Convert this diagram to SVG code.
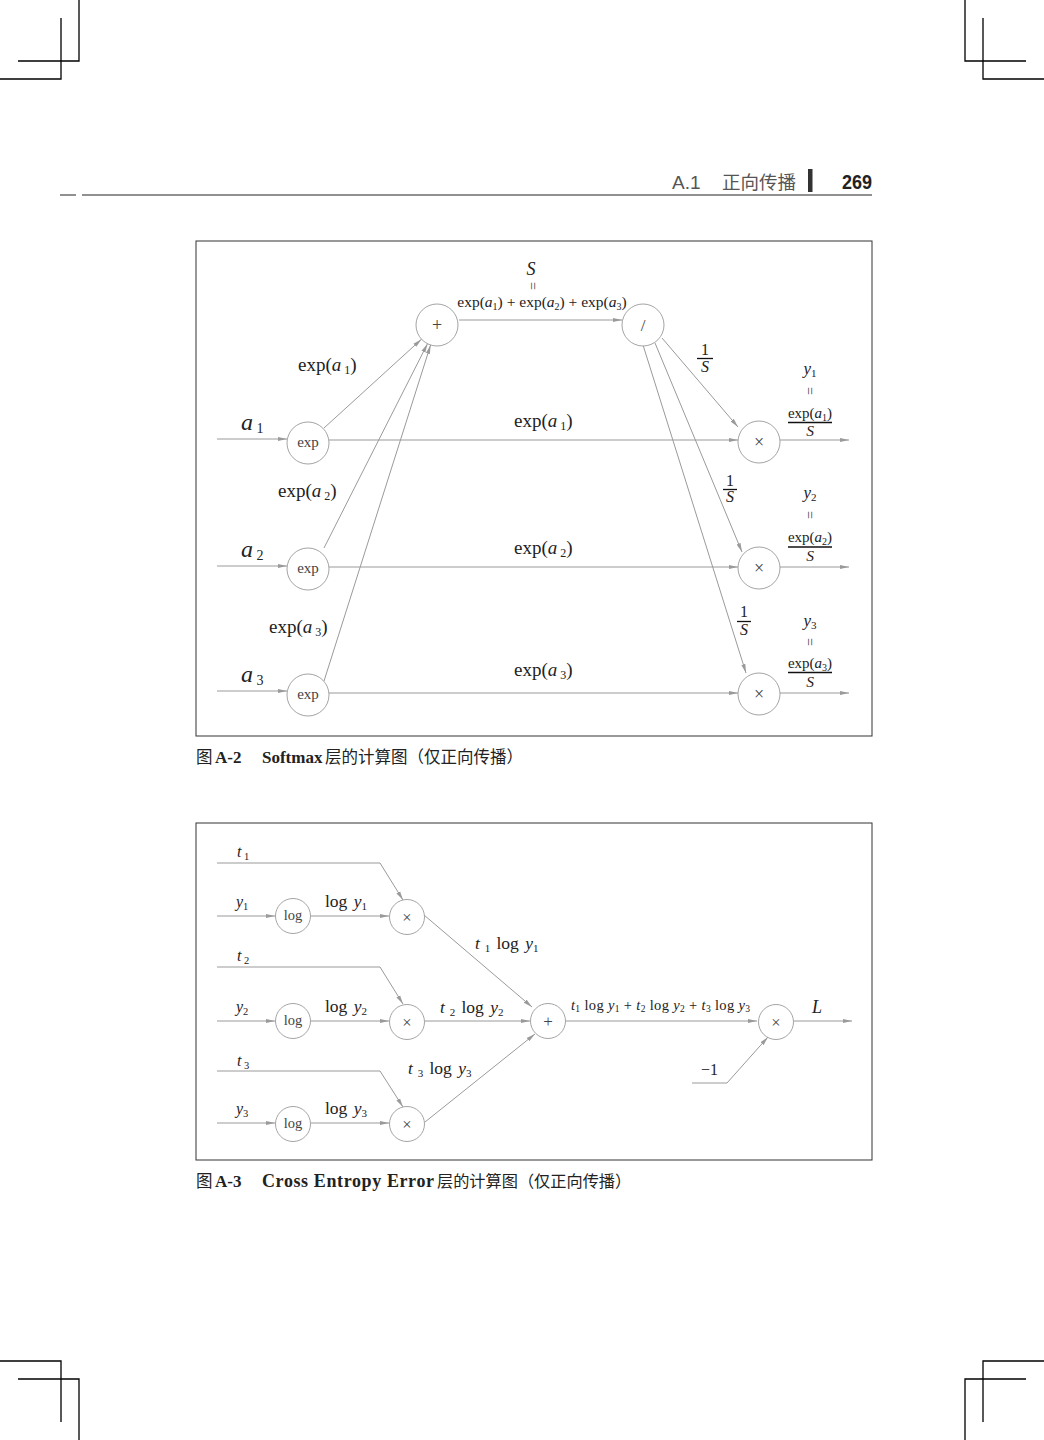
<svg xmlns="http://www.w3.org/2000/svg" width="1044" height="1440" viewBox="0 0 1044 1440">
<style>
.bg{fill:#fff}
.crop{fill:none;stroke:#000;stroke-width:1.3}
.frame{fill:none;stroke:#333;stroke-width:1}
.node circle{fill:#fff;stroke:#9a9a9a;stroke-width:0.9}
.conn path{fill:none;stroke:#9a9a9a;stroke-width:1}
.t{font-family:"Liberation Serif",serif;fill:#222}
.i{font-style:italic}
.op{font-family:"Liberation Serif",serif;fill:#444;text-anchor:middle}
.cj{font-family:"Noto Sans CJK SC",sans-serif;fill:#222}
.bs{font-family:"Liberation Serif",serif;font-weight:bold;fill:#222}
.bar{stroke:#111;stroke-width:1.3}
.eq{font-family:"Liberation Serif",serif;fill:#444;font-size:14px;text-anchor:middle}
.ws{word-spacing:2px}
</style>
<defs>
<marker id="ah" markerWidth="10" markerHeight="6" refX="9" refY="3" orient="auto" markerUnits="userSpaceOnUse">
<path d="M0,0.9 L9,3 L0,5.1 z" fill="#9a9a9a"/>
</marker>
</defs>
<rect class="bg" x="0" y="0" width="1044" height="1440"/>

<!-- crop marks -->
<g id="cropmarks">
<path class="crop" d="M79,0 V61 H18 M0,79 H61 V18"/>
<path class="crop" d="M965,0 V61 H1026 M1044,79 H983 V18"/>
<path class="crop" d="M79,1440 V1379 H18 M0,1361 H61 V1422"/>
<path class="crop" d="M965,1440 V1379 H1026 M1044,1361 H983 V1422"/>
</g>

<!-- header -->
<g id="header">
<text x="672" y="189" font-family="Liberation Sans,sans-serif" font-size="19" fill="#555">A.1</text>
<text x="722" y="189" font-family="Noto Sans CJK SC,sans-serif" font-size="18.5" fill="#555">正向传播</text>
<rect x="808" y="169" width="4.5" height="23" fill="#333"/>
<text x="842" y="189" font-family="Liberation Sans Narrow,Liberation Sans,sans-serif" font-weight="bold" font-size="21" fill="#222" textLength="30" lengthAdjust="spacingAndGlyphs">269</text>
<path d="M60,195 H76 M82,195 H872" stroke="#222" stroke-width="1"/>
</g>

<!-- ============ Figure A-2 ============ -->
<rect class="frame" x="196" y="241" width="676" height="495"/>

<g id="conn-a2" class="conn">
<path marker-end="url(#ah)" d="M217,439 H287"/>
<path marker-end="url(#ah)" d="M217,566 H287"/>
<path marker-end="url(#ah)" d="M217,691 H287"/>
<path marker-end="url(#ah)" d="M324,428 L421.5,339.2"/>
<path marker-end="url(#ah)" d="M324,548 L427.5,343.7"/>
<path marker-end="url(#ah)" d="M324,681 L430.6,345"/>
<path marker-end="url(#ah)" d="M329,440 H738"/>
<path marker-end="url(#ah)" d="M329,567 H738"/>
<path marker-end="url(#ah)" d="M329,693 H738"/>
<path marker-end="url(#ah)" d="M459,320 H622"/>
<path marker-end="url(#ah)" d="M662,338 L738,427"/>
<path marker-end="url(#ah)" d="M655,343 L742,552"/>
<path marker-end="url(#ah)" d="M643,345 L746,673"/>
<path marker-end="url(#ah)" d="M780,440 H849"/>
<path marker-end="url(#ah)" d="M780,567 H849"/>
<path marker-end="url(#ah)" d="M780,693 H849"/>
</g>

<g id="exp1" class="node"><circle cx="308" cy="443" r="21"/><text class="op" x="308" y="447" font-size="15">exp</text></g>
<g id="exp2" class="node"><circle cx="308" cy="569" r="21"/><text class="op" x="308" y="573" font-size="15">exp</text></g>
<g id="exp3" class="node"><circle cx="308" cy="695" r="21"/><text class="op" x="308" y="699" font-size="15">exp</text></g>
<g id="plus" class="node"><circle cx="437" cy="325" r="21"/><text class="op" x="437" y="331" font-size="18">+</text></g>
<g id="div" class="node"><circle cx="643" cy="325" r="21"/><text class="op" x="643" y="331" font-size="17">/</text></g>
<g id="mul1" class="node"><circle cx="759" cy="442" r="21"/><text class="op" x="759" y="448" font-size="18">×</text></g>
<g id="mul2" class="node"><circle cx="759" cy="568" r="21"/><text class="op" x="759" y="574" font-size="18">×</text></g>
<g id="mul3" class="node"><circle cx="759" cy="694" r="21"/><text class="op" x="759" y="700" font-size="18">×</text></g>

<g id="labels-a2">
<text class="t i" x="531" y="275" font-size="18" text-anchor="middle">S</text>
<text class="eq" transform="rotate(90 533 286)" x="533" y="291">=</text>
<text class="t" x="542" y="307" font-size="15.5" text-anchor="middle">exp(<tspan class="i">a</tspan><tspan font-size="10" dy="3">1</tspan><tspan dy="-3">) + exp(</tspan><tspan class="i">a</tspan><tspan font-size="10" dy="3">2</tspan><tspan dy="-3">) + exp(</tspan><tspan class="i">a</tspan><tspan font-size="10" dy="3">3</tspan><tspan dy="-3">)</tspan></text>

<text class="t" x="298" y="371" font-size="19">exp(<tspan class="i">a</tspan><tspan font-size="12" dy="3"> 1</tspan><tspan dy="-3">)</tspan></text>
<text class="t" x="278" y="497" font-size="19">exp(<tspan class="i">a</tspan><tspan font-size="12" dy="3"> 2</tspan><tspan dy="-3">)</tspan></text>
<text class="t" x="269" y="633" font-size="19">exp(<tspan class="i">a</tspan><tspan font-size="12" dy="3"> 3</tspan><tspan dy="-3">)</tspan></text>

<text class="t" x="514" y="427" font-size="19">exp(<tspan class="i">a</tspan><tspan font-size="12" dy="3"> 1</tspan><tspan dy="-3">)</tspan></text>
<text class="t" x="514" y="554" font-size="19">exp(<tspan class="i">a</tspan><tspan font-size="12" dy="3"> 2</tspan><tspan dy="-3">)</tspan></text>
<text class="t" x="514" y="676" font-size="19">exp(<tspan class="i">a</tspan><tspan font-size="12" dy="3"> 3</tspan><tspan dy="-3">)</tspan></text>

<text class="t i" x="241" y="430" font-size="24">a<tspan font-style="normal" font-size="14" dy="3"> 1</tspan></text>
<text class="t i" x="241" y="557" font-size="24">a<tspan font-style="normal" font-size="14" dy="3"> 2</tspan></text>
<text class="t i" x="241" y="682" font-size="24">a<tspan font-style="normal" font-size="14" dy="3"> 3</tspan></text>

<text class="t" x="705" y="355" font-size="16" text-anchor="middle">1</text>
<line class="bar" x1="697" y1="358.5" x2="713" y2="358.5"/>
<text class="t i" x="705" y="372" font-size="16" text-anchor="middle">S</text>

<text class="t" x="730" y="486" font-size="16" text-anchor="middle">1</text>
<line class="bar" x1="723" y1="489.5" x2="737" y2="489.5"/>
<text class="t i" x="730" y="502" font-size="16" text-anchor="middle">S</text>

<text class="t" x="744" y="617" font-size="16" text-anchor="middle">1</text>
<line class="bar" x1="737" y1="621.5" x2="751" y2="621.5"/>
<text class="t i" x="744" y="635" font-size="16" text-anchor="middle">S</text>

<text class="t i" x="810" y="374" font-size="17" text-anchor="middle">y<tspan font-style="normal" font-size="11" dy="3">1</tspan></text>
<text class="eq" transform="rotate(90 810 391)" x="810" y="396">=</text>
<text class="t" x="810" y="418" font-size="15" text-anchor="middle">exp(<tspan class="i">a</tspan><tspan font-size="10" dy="3">1</tspan><tspan dy="-3">)</tspan></text>
<line class="bar" x1="788" y1="422.5" x2="832" y2="422.5"/>
<text class="t i" x="810" y="436" font-size="15.5" text-anchor="middle">S</text>

<text class="t i" x="810" y="498" font-size="17" text-anchor="middle">y<tspan font-style="normal" font-size="11" dy="3">2</tspan></text>
<text class="eq" transform="rotate(90 810 515)" x="810" y="520">=</text>
<text class="t" x="810" y="542" font-size="15" text-anchor="middle">exp(<tspan class="i">a</tspan><tspan font-size="10" dy="3">2</tspan><tspan dy="-3">)</tspan></text>
<line class="bar" x1="788" y1="547" x2="832" y2="547"/>
<text class="t i" x="810" y="561" font-size="15.5" text-anchor="middle">S</text>

<text class="t i" x="810" y="626" font-size="17" text-anchor="middle">y<tspan font-style="normal" font-size="11" dy="3">3</tspan></text>
<text class="eq" transform="rotate(90 810 642)" x="810" y="647">=</text>
<text class="t" x="810" y="668" font-size="15" text-anchor="middle">exp(<tspan class="i">a</tspan><tspan font-size="10" dy="3">3</tspan><tspan dy="-3">)</tspan></text>
<line class="bar" x1="788" y1="672.5" x2="832" y2="672.5"/>
<text class="t i" x="810" y="687" font-size="15.5" text-anchor="middle">S</text>
</g>

<g id="caption-a2">
<text class="cj" x="196" y="763" font-size="16.5">图</text>
<text class="bs" x="215" y="763" font-size="17">A-2</text>
<text class="bs" x="262" y="763" font-size="17">Softmax</text>
<text class="cj" x="325" y="763" font-size="16.5">层的计算图（仅正向传播）</text>
</g>

<!-- ============ Figure A-3 ============ -->
<rect class="frame" x="196" y="823" width="676" height="337"/>

<g id="conn-a3" class="conn">
<path marker-end="url(#ah)" d="M217,863 H380 L403,900"/>
<path marker-end="url(#ah)" d="M217,916 H275"/>
<path marker-end="url(#ah)" d="M311,916 H389"/>
<path marker-end="url(#ah)" d="M217,967 H380 L403,1004"/>
<path marker-end="url(#ah)" d="M217,1021 H275"/>
<path marker-end="url(#ah)" d="M311,1021 H389"/>
<path marker-end="url(#ah)" d="M217,1071 H380 L403,1107"/>
<path marker-end="url(#ah)" d="M217,1123 H275"/>
<path marker-end="url(#ah)" d="M311,1123 H389"/>
<path marker-end="url(#ah)" d="M424,915 L532,1007"/>
<path marker-end="url(#ah)" d="M425,1021 H530"/>
<path marker-end="url(#ah)" d="M425,1122 L535,1034"/>
<path marker-end="url(#ah)" d="M566,1021 H757"/>
<path marker-end="url(#ah)" d="M794,1021 H852"/>
<path marker-end="url(#ah)" d="M692,1083 H727 L768,1037"/>
</g>

<g id="log1" class="node"><circle cx="293" cy="916" r="17.5"/><text class="op" x="293" y="920" font-size="14.5">log</text></g>
<g id="log2" class="node"><circle cx="293" cy="1021" r="17.5"/><text class="op" x="293" y="1025" font-size="14.5">log</text></g>
<g id="log3" class="node"><circle cx="293" cy="1124" r="17.5"/><text class="op" x="293" y="1128" font-size="14.5">log</text></g>
<g id="m1" class="node"><circle cx="407" cy="917" r="17.5"/><text class="op" x="407" y="922.5" font-size="16.5">×</text></g>
<g id="m2" class="node"><circle cx="407" cy="1022" r="17.5"/><text class="op" x="407" y="1027.5" font-size="16.5">×</text></g>
<g id="m3" class="node"><circle cx="407" cy="1124" r="17.5"/><text class="op" x="407" y="1129.5" font-size="16.5">×</text></g>
<g id="sum" class="node"><circle cx="548" cy="1021" r="17.5"/><text class="op" x="548" y="1027" font-size="17">+</text></g>
<g id="mf" class="node"><circle cx="776" cy="1022" r="17.5"/><text class="op" x="776" y="1027.5" font-size="16.5">×</text></g>

<g id="labels-a3">
<text class="t i" x="237" y="857" font-size="16">t<tspan font-style="normal" font-size="10.5" dy="3"> 1</tspan></text>
<text class="t i" x="236" y="907" font-size="16">y<tspan font-style="normal" font-size="10.5" dy="3">1</tspan></text>
<text class="t i" x="237" y="961" font-size="16">t<tspan font-style="normal" font-size="10.5" dy="3"> 2</tspan></text>
<text class="t i" x="236" y="1012" font-size="16">y<tspan font-style="normal" font-size="10.5" dy="3">2</tspan></text>
<text class="t i" x="237" y="1066" font-size="16">t<tspan font-style="normal" font-size="10.5" dy="3"> 3</tspan></text>
<text class="t i" x="236" y="1114" font-size="16">y<tspan font-style="normal" font-size="10.5" dy="3">3</tspan></text>

<text class="t ws" x="325" y="907" font-size="17.5">log <tspan class="i">y</tspan><tspan font-size="11" dy="3">1</tspan></text>
<text class="t ws" x="325" y="1012" font-size="17.5">log <tspan class="i">y</tspan><tspan font-size="11" dy="3">2</tspan></text>
<text class="t ws" x="325" y="1114" font-size="17.5">log <tspan class="i">y</tspan><tspan font-size="11" dy="3">3</tspan></text>

<text class="t ws" x="475" y="949" font-size="17.5"><tspan class="i">t</tspan><tspan font-size="11" dy="3"> 1</tspan><tspan dy="-3"> log </tspan><tspan class="i">y</tspan><tspan font-size="11" dy="3">1</tspan></text>
<text class="t ws" x="440" y="1013" font-size="17.5"><tspan class="i">t</tspan><tspan font-size="11" dy="3"> 2</tspan><tspan dy="-3"> log </tspan><tspan class="i">y</tspan><tspan font-size="11" dy="3">2</tspan></text>
<text class="t ws" x="408" y="1074" font-size="17.5"><tspan class="i">t</tspan><tspan font-size="11" dy="3"> 3</tspan><tspan dy="-3"> log </tspan><tspan class="i">y</tspan><tspan font-size="11" dy="3">3</tspan></text>

<text class="t" x="571" y="1010" font-size="14.5" textLength="179" lengthAdjust="spacing"><tspan class="i">t</tspan><tspan font-size="9.5" dy="2">1</tspan><tspan dy="-2"> log </tspan><tspan class="i">y</tspan><tspan font-size="9.5" dy="2">1</tspan><tspan dy="-2"> + </tspan><tspan class="i">t</tspan><tspan font-size="9.5" dy="2">2</tspan><tspan dy="-2"> log </tspan><tspan class="i">y</tspan><tspan font-size="9.5" dy="2">2</tspan><tspan dy="-2"> + </tspan><tspan class="i">t</tspan><tspan font-size="9.5" dy="2">3</tspan><tspan dy="-2"> log </tspan><tspan class="i">y</tspan><tspan font-size="9.5" dy="2">3</tspan></text>

<text class="t i" x="817" y="1013" font-size="18" text-anchor="middle">L</text>
<text class="t" x="701" y="1075" font-size="16">−1</text>
</g>

<g id="caption-a3">
<text class="cj" x="196" y="1187" font-size="16.5">图</text>
<text class="bs" x="215" y="1187" font-size="17">A-3</text>
<text class="bs" x="262" y="1187" font-size="18" textLength="172" lengthAdjust="spacing">Cross Entropy Error</text>
<text class="cj" x="437" y="1187" font-size="16.2">层的计算图（仅正向传播）</text>
</g>
</svg>
